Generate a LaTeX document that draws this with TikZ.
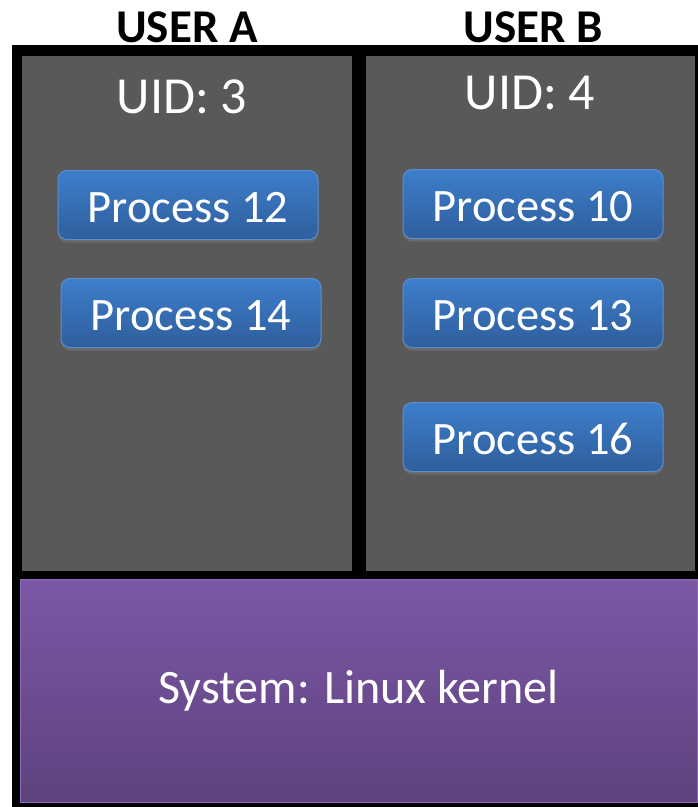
\documentclass[tikz,border=0pt]{standalone}
\usepackage{fontspec}
\setmainfont{Carlito}
\usetikzlibrary{positioning, shadows}

\definecolor{panelgray}{HTML}{595959}
\definecolor{proctop}{HTML}{3D7ECB}
\definecolor{procbot}{HTML}{2F5E9C}
\definecolor{procline}{HTML}{5B8FD0}
\definecolor{kerntop}{HTML}{7B58A6}
\definecolor{kernbot}{HTML}{5E427E}
\definecolor{kernline}{HTML}{8C6CB4}

\tikzset{
	proc/.style={draw=procline, line width=1pt, rounded corners=9pt,
		top color=proctop, bottom color=procbot, text=white,
		minimum width=260pt, minimum height=69pt, inner sep=0pt,
		text height=34pt, text depth=0pt,
		font=\fontsize{46.5}{50}\selectfont,
		drop shadow={opacity=0.45, shadow xshift=0pt, shadow yshift=-3pt}},
	usertitle/.style={font=\fontsize{47}{50}\selectfont\bfseries},
	uid/.style={text=white, font=\fontsize{52}{56}\selectfont}
}

\begin{document}
\begin{tikzpicture}[x=1pt, y=-1pt]
	\useasboundingbox (0,0) rectangle (698,807);
	% black frame and the two user panels
	\fill[black] (12,45) rectangle (710,807);
	\fill[panelgray] (22,56) rectangle (352,571);
	\fill[panelgray] (366,56) rectangle (695,571);

	\node[usertitle] (ua) at (187,27) {USER A};
	\node[usertitle] (ub) at (533,27) {USER B};
	\node[uid] (uid3) at (182,97) {UID: 3};
	\node[uid] (uid4) at (530,93) {UID: 4};

	% processes
	\node[proc] (p12) at (188,205) {Process 12};
	\node[proc] (p14) at (191,313) {Process 14};
	\node[proc] (p10) at (533,204) {Process 10};
	\node[proc] (p13) at (533,313) {Process 13};
	\node[proc] (p16) at (533,437) {Process 16};

	% kernel
	\node[draw=kernline, line width=1pt, top color=kerntop, bottom color=kernbot,
		minimum width=677pt, minimum height=223pt, inner sep=0pt, text=white,
		font=\fontsize{48}{52}\selectfont] (kern) at (358.5,690.5) {System: Linux kernel};
\end{tikzpicture}
\end{document}
